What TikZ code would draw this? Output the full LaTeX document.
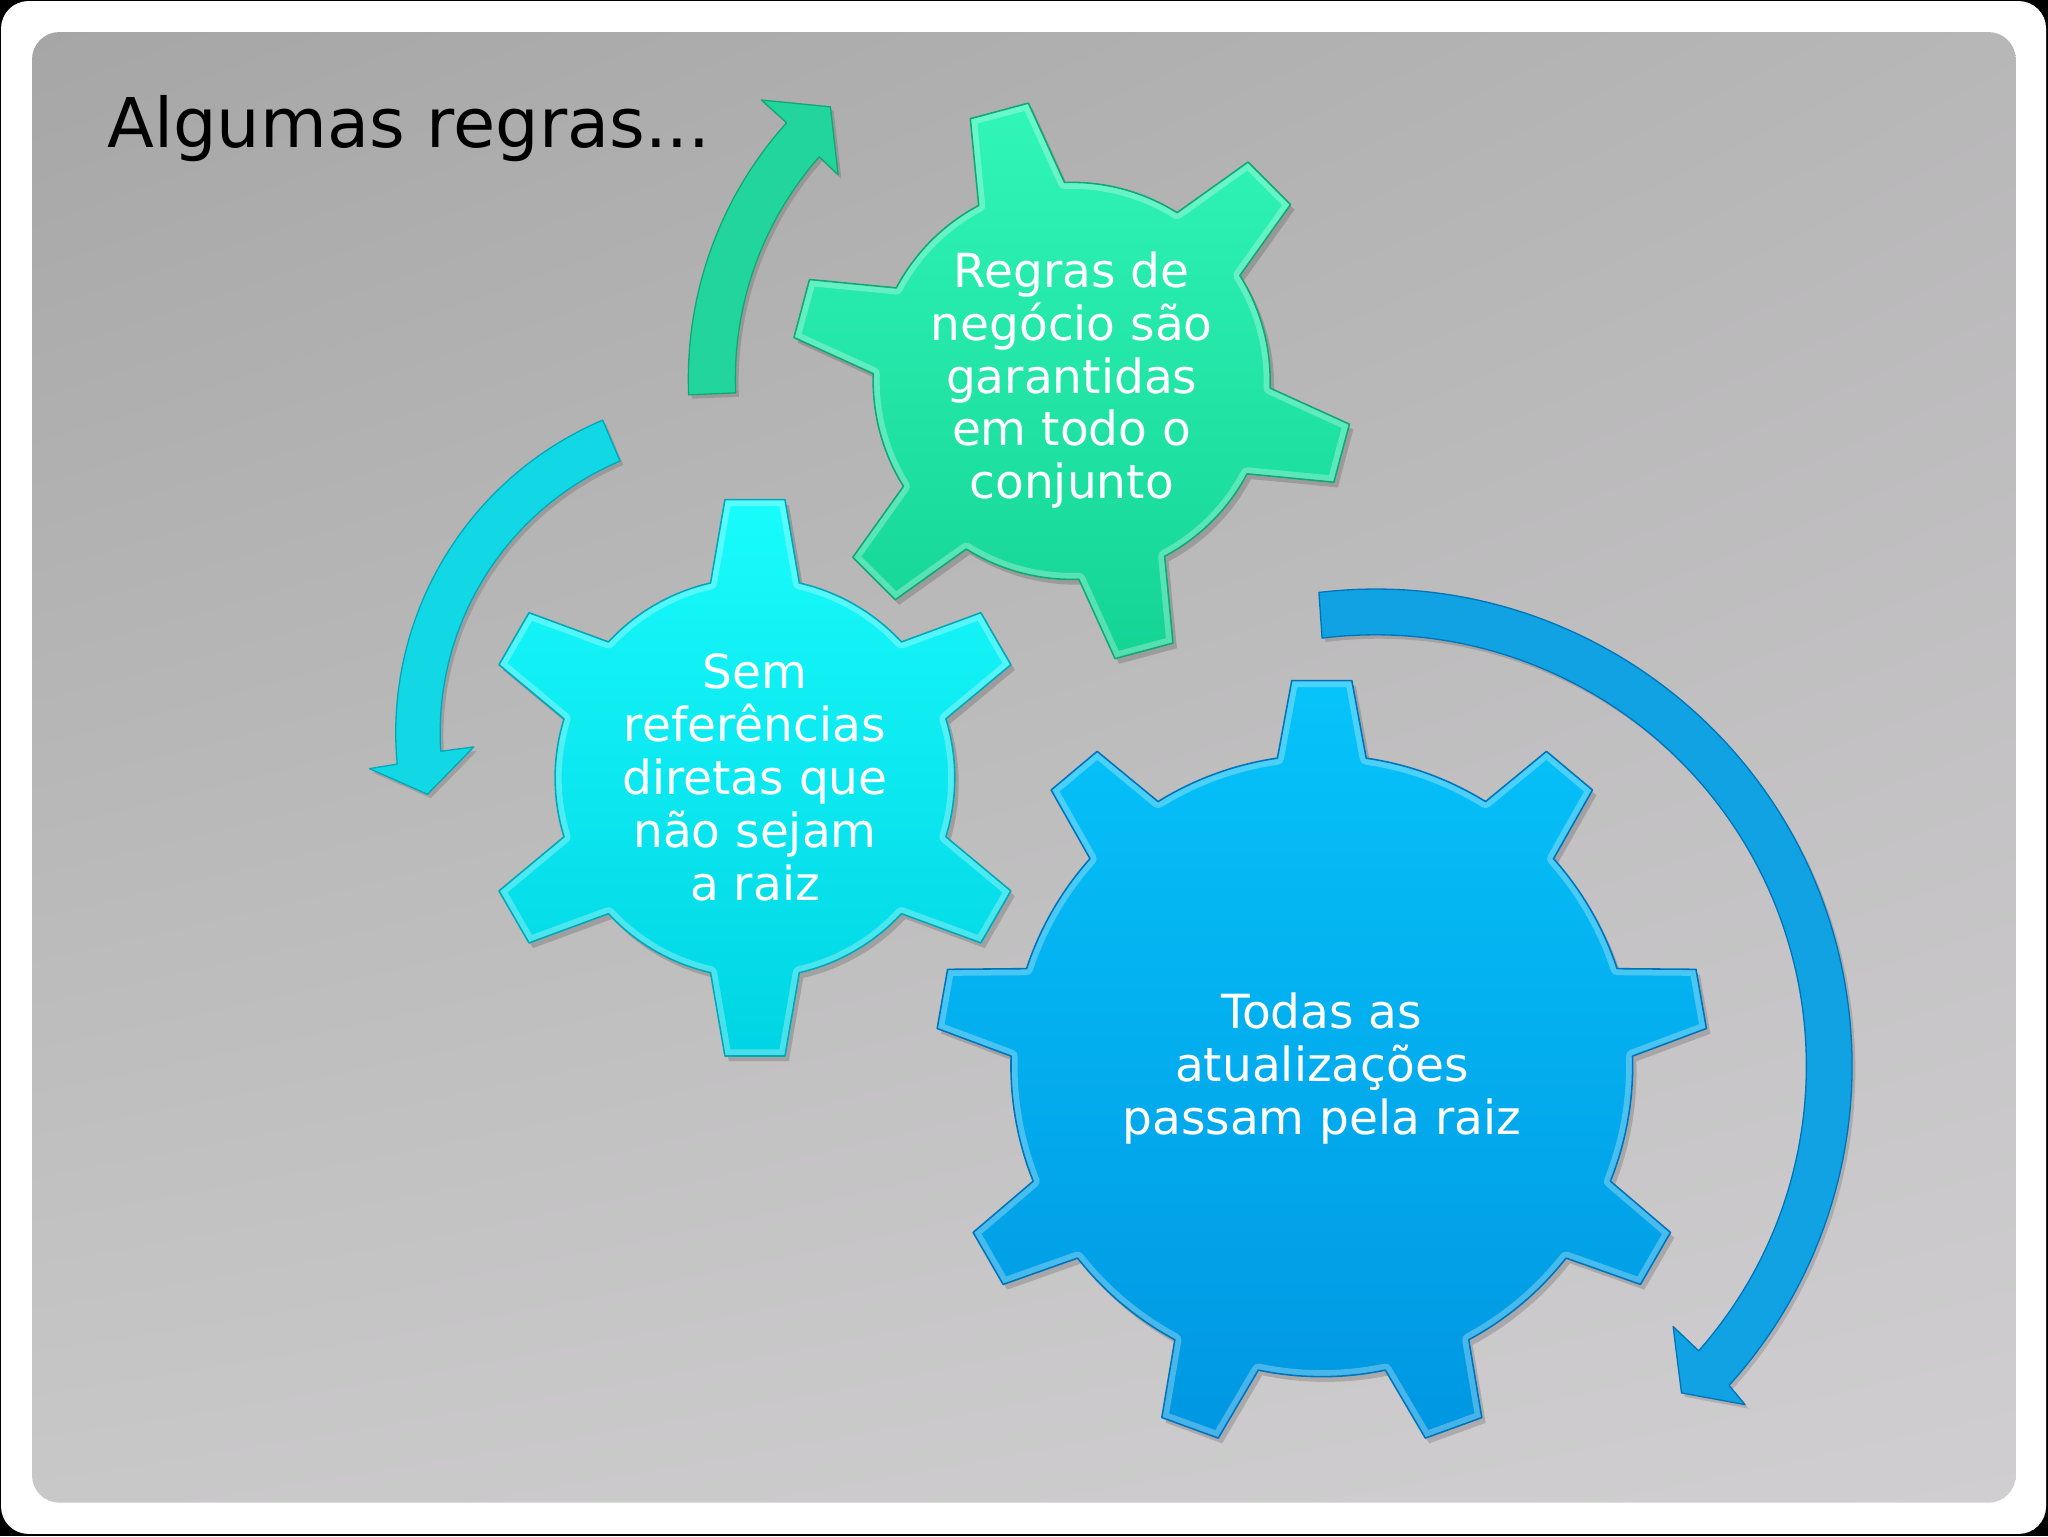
\documentclass[tikz,border=0pt]{standalone}
\usepackage{fontspec}
\setmainfont{DejaVu Sans}
\usetikzlibrary{calc,shadings}

\definecolor{greenA}{RGB}{48,246,184}
\definecolor{greenB}{RGB}{20,212,148}
\definecolor{greenE}{RGB}{16,168,116}
\definecolor{greenArr}{RGB}{34,213,156}
\definecolor{cyanA}{RGB}{24,252,252}
\definecolor{cyanB}{RGB}{0,212,228}
\definecolor{cyanE}{RGB}{0,168,184}
\definecolor{cyanArr}{RGB}{18,216,230}
\definecolor{blueA}{RGB}{6,196,250}
\definecolor{blueB}{RGB}{0,150,226}
\definecolor{blueE}{RGB}{0,116,186}
\definecolor{blueArr}{RGB}{16,162,226}
\definecolor{bgUL}{RGB}{166,166,166}
\definecolor{bgUR}{RGB}{184,183,184}
\definecolor{bgLL}{RGB}{201,200,201}
\definecolor{bgLR}{RGB}{208,206,208}

\def\gbw{34}\def\gtw{23}
\newcommand\gearsetup[4]{%
  \pgfmathsetmacro\gstep{360/#1}%
  \pgfmathtruncatemacro\glast{#1-1}%
  \pgfmathsetmacro\gab{asin(\gbw/#3)}%
  \pgfmathsetmacro\gat{atan(\gtw/#4)}%
  \pgfmathsetmacro\gtr{#4/cos(\gat)}%
  \def\goff{#2}\def\gR{#3}%
}
\newcommand\gearpath{%
  ({\goff-\gab}:\gR pt)
  \foreach \i in {0,...,\glast}{
    -- ({\goff+\i*\gstep-\gat}:\gtr pt)
    -- ({\goff+\i*\gstep+\gat}:\gtr pt)
    -- ({\goff+\i*\gstep+\gab}:\gR pt)
    arc[start angle={\goff+\i*\gstep+\gab}, end angle={\goff+(\i+1)*\gstep-\gab}, radius=\gR pt]
  } -- cycle
}
\newcommand\drawgear[7]{%
  \gearsetup{#3}{#4}{#5}{#6}%
  \begin{scope}[shift={(#1,#2)}]
    \fill[black,opacity=.16,shift={(3,-4)}] \gearpath;
    \shade[top color=#7A, bottom color=#7B] \gearpath;
    \begin{scope}
      \clip \gearpath;
      \draw[white,opacity=.28,line width=10pt,line join=round] \gearpath;
    \end{scope}
    \draw[#7E,line width=1.2pt,line join=round] \gearpath;
  \end{scope}%
}

\tikzset{
  geartext/.style={text=white, align=center, inner sep=0pt,
    font=\fontsize{36}{40.5}\selectfont},
  arrowshape/.style={line width=1pt, line join=round},
  arrowshadow/.style={fill=black, opacity=.14}
}

\begin{document}
\begin{tikzpicture}[x=1pt,y=1pt]
\useasboundingbox (0,0) rectangle (1568,-1176);
\fill[black] (0,0) rectangle (1568,-1176);
\fill[white, rounded corners=21pt] (0.8,-0.8) rectangle (1566.5,-1174.4);
\shade[upper left=bgUL, upper right=bgUR, lower left=bgLL, lower right=bgLR,
  rounded corners=21pt] (24.5,-24.5) rectangle (1543.3,-1150.5);

\node[anchor=base west, inner sep=0pt, font=\fontsize{52.5}{63}\selectfont]
  (title) at (82,-112.6) {Algumas regras...};

% arrows
\begin{scope}[shift={(820,-290)}]
  \fill[arrowshadow, shift={(2.5,-3)}] (182.4:293pt) arc[start angle=182.4,end angle=138,radius=293pt]
    -- (138:319pt) -- (131.5:278pt) -- (138.8:237pt) -- (138.6:257pt)
    arc[start angle=138.6,end angle=182.4,radius=257pt] -- cycle;
  \path[arrowshape, fill=greenArr, draw=greenE] (182.4:293pt) arc[start angle=182.4,end angle=138,radius=293pt]
    -- (138:319pt) -- (131.5:278pt) -- (138.8:237pt) -- (138.6:257pt)
    arc[start angle=138.6,end angle=182.4,radius=257pt] -- cycle;
\end{scope}
\begin{scope}[shift={(563,-561)}]
  \fill[arrowshadow, shift={(2.5,-3)}] (113:260pt) arc[start angle=113,end angle=185.3,radius=260pt]
    -- (185.6:281.5pt) -- (191.3:240.4pt) -- (183.1:200.5pt) -- (183.6:226pt)
    arc[start angle=183.6,end angle=113,radius=226pt] -- cycle;
  \path[arrowshape, fill=cyanArr, draw=cyanE] (113:260pt) arc[start angle=113,end angle=185.3,radius=260pt]
    -- (185.6:281.5pt) -- (191.3:240.4pt) -- (183.1:200.5pt) -- (183.6:226pt)
    arc[start angle=183.6,end angle=113,radius=226pt] -- cycle;
\end{scope}
\begin{scope}[shift={(1053,-816)}]
  \fill[arrowshadow, shift={(2.5,-3)}] (96.8:365pt) arc[start angle=96.8,end angle=-42.1,radius=365pt]
    -- (-42.5:384pt) -- (-46.9:343pt) -- (-41.2:303pt) -- (-41.4:330pt)
    arc[start angle=-41.4,end angle=97.1,radius=330pt] -- cycle;
  \path[arrowshape, fill=blueArr, draw=blueE] (96.8:365pt) arc[start angle=96.8,end angle=-42.1,radius=365pt]
    -- (-42.5:384pt) -- (-46.9:343pt) -- (-41.2:303pt) -- (-41.4:330pt)
    arc[start angle=-41.4,end angle=97.1,radius=330pt] -- cycle;
\end{scope}

% gears
\drawgear{820.5}{-291.6}{6}{45}{152}{214}{green}
\drawgear{578}{-595.5}{6}{90}{153}{213}{cyan}
\drawgear{1012}{-816}{9}{90}{238}{295}{blue}

\node[geartext] (tgreen) at (820.5,-291) {Regras de\\negócio são\\garantidas\\em todo o\\conjunto};
\node[geartext] (tcyan) at (578,-595) {Sem\\referências\\diretas que\\não sejam\\a raiz};
\node[geartext] (tblue) at (1012,-818) {Todas as\\atualizações\\passam pela raiz};
\end{tikzpicture}
\end{document}
